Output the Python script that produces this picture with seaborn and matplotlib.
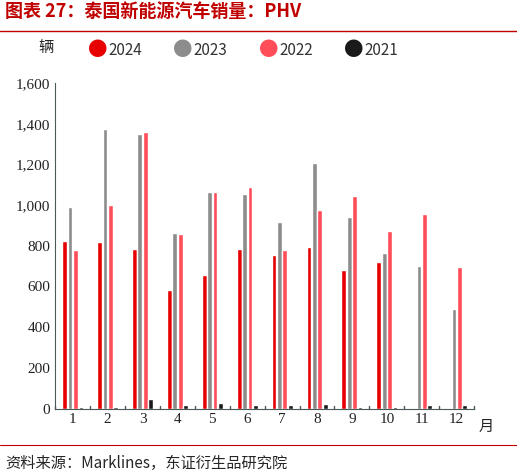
import matplotlib
matplotlib.use("Agg")
import matplotlib.pyplot as plt
import seaborn as sns
import pandas as pd
from matplotlib.ticker import FuncFormatter

months = [str(i) for i in range(1, 13)]
v2024 = [825, 820, 785, 585, 655, 785, 755, 795, 680, 720, 0, 0]
v2023 = [990, 1375, 1350, 865, 1065, 1055, 915, 1205, 940, 765, 700, 490]
v2022 = [780, 1000, 1360, 860, 1065, 1090, 780, 975, 1045, 875, 955, 695]
v2021 = [8, 8, 45, 15, 25, 15, 15, 20, 8, 8, 15, 15]
series = ["2024", "2023", "2022", "2021"]
colors = ["#e60000", "#8c8c8c", "#ff4d5a", "#1a1a1a"]

rows = []
for s, vals in zip(series, [v2024, v2023, v2022, v2021]):
    for m, v in zip(months, vals):
        rows.append({"month": m, "series": s, "value": v})
df = pd.DataFrame(rows)

sns.set_style("white")
plt.rcParams['font.family'] = ['Noto Sans CJK SC', 'DejaVu Sans']
fig = plt.figure(figsize=(5.17, 4.75), dpi=100)
ax = fig.add_axes([0.107, 0.14, 0.81, 0.685])
sns.barplot(data=df, x="month", y="value", hue="series", palette=colors,
            width=0.62, gap=0.12, ax=ax, legend=False, saturation=1)
ax.set_ylim(0, 1600)
ax.set_yticks(range(0, 1601, 200))
ax.yaxis.set_major_formatter(FuncFormatter(lambda v, p: f"{int(v):,}"))
ax.set_xlim(-0.5, 11.5)
ax.set_xlabel("")
ax.set_ylabel("")
for s in ["top", "right"]:
    ax.spines[s].set_visible(False)
for s in ["left", "bottom"]:
    ax.spines[s].set_color("#4a5a5a")
ax.tick_params(axis="both", labelsize=11, colors="#222222", length=0)
for t in ax.get_yticklabels() + ax.get_xticklabels():
    t.set_family(['Liberation Serif'])
for i in range(13):
    ax.plot([i - 0.5, i - 0.5], [0, 12], color="#4a5a5a", lw=1, clip_on=False)
ax.text(1.01, -0.07, "月", transform=ax.transAxes, fontsize=11)

fig.text(0.01, 0.965, "图表 27：泰国新能源汽车销量：PHV", color="#c00000", fontsize=13, fontweight="bold")
fig.add_artist(plt.Line2D([0, 1], [0.935, 0.935], color="#c00000", lw=1))
fig.text(0.075, 0.89, "辆", fontsize=11)
lx = [0.17, 0.335, 0.50, 0.665]
for x, s, c in zip(lx, series, colors):
    fig.text(x, 0.893, "●", color=c, fontsize=14, va="center")
    fig.text(x + 0.04, 0.893, s, fontsize=11, va="center", color="#333333")
fig.add_artist(plt.Line2D([0, 1], [0.063, 0.063], color="#c00000", lw=0.8))
fig.text(0.01, 0.015, "资料来源：Marklines，东证衍生品研究院", fontsize=11)
fig.savefig("out.png", dpi=100)
